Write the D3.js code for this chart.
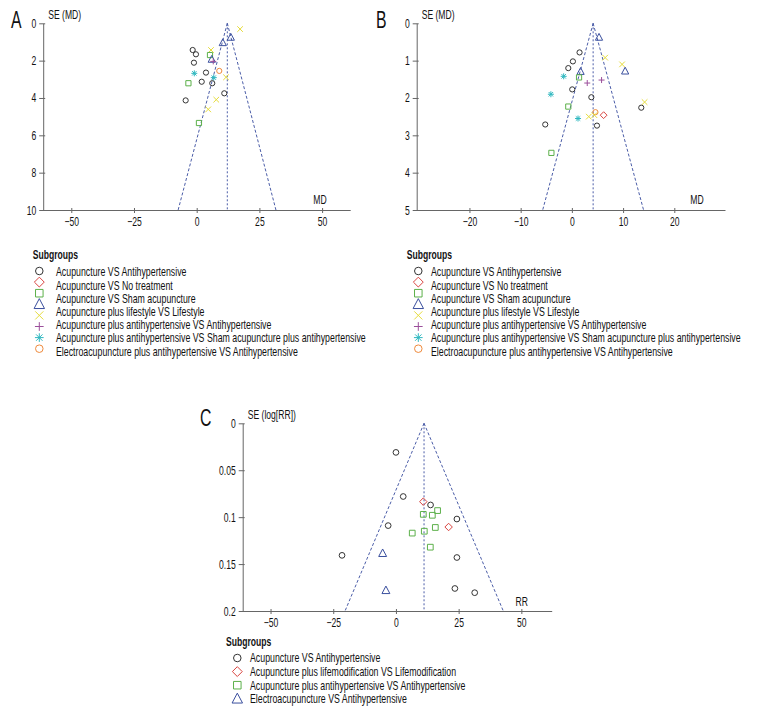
<!DOCTYPE html>
<html>
<head>
<meta charset="utf-8">
<script src="https://cdn.jsdelivr.net/npm/d3@7"></script>
<style>
  html, body { margin: 0; padding: 0; background: #fff; }
  svg { display: block; }
  text { font-family: "Liberation Sans", Arial, sans-serif; fill: #111; }
</style>
</head>
<body>
<svg id="chart" width="780" height="720"></svg>
<script>
// ---------------- DATA ----------------
const subgroupsAB = [
  "Acupuncture VS Antihypertensive",
  "Acupuncture VS No treatment",
  "Acupuncture VS Sham acupuncture",
  "Acupuncture plus lifestyle VS Lifestyle",
  "Acupuncture plus antihypertensive VS Antihypertensive",
  "Acupuncture plus antihypertensive VS Sham acupuncture plus antihypertensive",
  "Electroacupuncture plus antihypertensive VS Antihypertensive"
];
const symbolsAB = ["circle", "diamond", "square", "triangle", "cross", "plus", "asterisk", "circle"];
const colorsAB  = ["#333333", "#d9443f", "#5cb04a", "#3a4f9e", "#e6dc3c", "#9b4f9b", "#2fb8c0", "#ef8a3c"];

const subgroupsC = [
  "Acupuncture VS Antihypertensive",
  "Acupuncture plus lifemodification VS Lifemodification",
  "Acupuncture plus antihypertensive VS Antihypertensive",
  "Electroacupuncture VS Antihypertensive"
];
const symbolsC = ["circle", "diamond", "square", "triangle"];
const colorsC  = ["#333333", "#d9443f", "#5cb04a", "#3a4f9e"];

// [effect, SE, subgroup index]
const panelAPoints = [
  [17.3, 0.31, 4], [13.6, 0.75, 3], [10.4, 1.04, 3], [-1.6, 1.43, 0], [-0.3, 1.66, 0],
  [5.7, 1.43, 4], [5.3, 1.70, 2], [6.0, 1.93, 3], [6.6, 2.04, 5], [-1.1, 2.11, 0],
  [-0.95, 2.68, 6], [3.7, 2.64, 0], [9.0, 2.55, 7], [6.8, 2.91, 6], [11.7, 2.89, 4],
  [-3.3, 3.21, 2], [2.0, 3.13, 0], [6.2, 3.21, 0], [11.0, 3.75, 0], [7.8, 4.09, 4],
  [-4.4, 4.13, 0], [4.6, 4.61, 4], [0.9, 5.34, 2]
];
const panelBPoints = [
  [5.3, 0.375, 3], [1.5, 0.78, 0], [0.2, 1.02, 0], [6.5, 0.92, 4], [9.8, 1.10, 4],
  [10.4, 1.28, 3], [-0.7, 1.20, 0], [1.7, 1.29, 3], [-1.6, 1.42, 6], [1.4, 1.45, 2],
  [3.0, 1.60, 5], [5.8, 1.52, 5], [0.07, 1.77, 0], [-4.1, 1.90, 6], [3.8, 1.98, 0],
  [14.2, 2.11, 4], [13.55, 2.26, 0], [-0.7, 2.23, 2], [4.6, 2.38, 7], [3.3, 2.50, 4],
  [4.4, 2.46, 4], [6.2, 2.46, 1], [1.2, 2.55, 6], [-5.2, 2.71, 0], [4.9, 2.74, 0],
  [-4.0, 3.47, 2]
];
const panelCPoints = [
  [0.0, 0.031, 0], [2.9, 0.078, 0], [10.9, 0.0835, 1], [13.8, 0.087, 0], [16.6, 0.093, 2],
  [14.5, 0.098, 2], [10.9, 0.097, 2], [24.3, 0.102, 0], [-3.1, 0.109, 0], [15.7, 0.111, 2],
  [21.0, 0.1105, 1], [6.5, 0.117, 2], [11.3, 0.115, 2], [13.7, 0.132, 2], [-5.3, 0.1385, 3],
  [24.3, 0.143, 0], [-4.0, 0.178, 3], [23.5, 0.176, 0], [31.4, 0.1805, 0], [-21.5, 0.1407, 0]
];

// pooled estimate and funnel base [left, right] at maximum SE
const pooledA = 12.2, funnelBaseA = [-7.4, 31.6];
const pooledB = 4.15, funnelBaseB = [-5.7, 14.0];
const pooledC = 11.2, funnelBaseC = [-20.3, 42.8];

const xTicksA = [-50, -25, 0, 25, 50];
const yTicksA = [0, 2, 4, 6, 8, 10];
const xTicksB = [-20, -10, 0, 10, 20];
const yTicksB = [0, 1, 2, 3, 4, 5];
const xTicksC = [-50, -25, 0, 25, 50];
const yTicksC = [0, 0.05, 0.1, 0.15, 0.2];

// ---------------- DRAWING ----------------
const svg = d3.select("#chart");

function markerPath(type, k) {
  const p = d3.path();
  switch (type) {
    case "circle": { const r = 2.6 * k; p.moveTo(r, 0); p.arc(0, 0, r, 0, 2 * Math.PI); break; }
    case "diamond": { const r = 3.4 * k; p.moveTo(0, -r); p.lineTo(r, 0); p.lineTo(0, r); p.lineTo(-r, 0); p.closePath(); break; }
    case "square": { const r = 2.6 * k; p.rect(-r, -r, 2 * r, 2 * r); break; }
    case "triangle": { const w = 3.6 * k, h = 3.9 * k; p.moveTo(0, -h); p.lineTo(w, h * 0.75); p.lineTo(-w, h * 0.75); p.closePath(); break; }
    case "cross": { const r = 2.8 * k; p.moveTo(-r, -r); p.lineTo(r, r); p.moveTo(-r, r); p.lineTo(r, -r); break; }
    case "plus": { const r = 3.0 * k; p.moveTo(-r, 0); p.lineTo(r, 0); p.moveTo(0, -r); p.lineTo(0, r); break; }
    case "asterisk": { const r = 3.0 * k, d = 2.2 * k; p.moveTo(-r, 0); p.lineTo(r, 0); p.moveTo(0, -r); p.lineTo(0, r); p.moveTo(-d, -d); p.lineTo(d, d); p.moveTo(-d, d); p.lineTo(d, -d); break; }
  }
  return p.toString();
}

function drawPanel(cfg) {
  const g = svg.append("g");
  const x = d3.scaleLinear().domain(cfg.xDomain).range(cfg.xRange);
  const y = d3.scaleLinear().domain(cfg.yDomain).range(cfg.yRange);
  const yMax = cfg.yDomain[1];

  const xAxis = d3.axisBottom(x).tickValues(cfg.xTicks).tickSizeInner(3).tickSizeOuter(0).tickPadding(4)
    .tickFormat(d => d < 0 ? "\u2212" + Math.abs(d) : String(d));
  const yAxis = d3.axisLeft(y).tickValues(cfg.yTicks).tickSizeInner(4).tickSizeOuter(0).tickPadding(3)
    .tickFormat(cfg.yFormat);

  const gx = g.append("g").attr("transform", `translate(0,${cfg.yRange[1]})`).call(xAxis);
  const gy = g.append("g").attr("transform", `translate(${cfg.xRange[0]},0)`).call(yAxis);
  [gx, gy].forEach(a => {
    a.attr("font-family", null).attr("font-size", null);
    a.select(".domain").attr("stroke", "#666").attr("stroke-width", 1);
    a.selectAll(".tick line").attr("stroke", "#666");
    a.selectAll(".tick text").attr("font-size", 12.5).attr("fill", "#111");
  });
  gx.selectAll(".tick line").attr("y1", -2);
  gy.selectAll(".tick line").attr("x1", 2);

  // funnel
  const fun = g.append("g").attr("fill", "none").attr("stroke", "#4b5da8").attr("stroke-width", 1);
  fun.append("line")
    .attr("x1", x(cfg.pooled)).attr("y1", y(0)).attr("x2", x(cfg.pooled)).attr("y2", y(yMax))
    .attr("stroke-dasharray", "2,2");
  fun.append("line")
    .attr("x1", x(cfg.pooled)).attr("y1", y(0)).attr("x2", x(cfg.funnelBase[0])).attr("y2", y(yMax))
    .attr("stroke-dasharray", "3,2");
  fun.append("line")
    .attr("x1", x(cfg.pooled)).attr("y1", y(0)).attr("x2", x(cfg.funnelBase[1])).attr("y2", y(yMax))
    .attr("stroke-dasharray", "3,2");

  // points
  g.append("g").selectAll("path").data(cfg.points).join("path")
    .attr("transform", d => `translate(${x(d[0])},${y(d[1])})`)
    .attr("d", d => markerPath(cfg.symbols[d[2]], cfg.markerScale))
    .attr("fill", "none")
    .attr("stroke", d => cfg.colors[d[2]])
    .attr("stroke-width", 1);

  // labels
  g.append("text").attr("x", cfg.xRange[0] + 5).attr("y", cfg.yRange[0] - 4)
    .attr("font-size", 12.5).text(cfg.yLabel);
  g.append("text").attr("x", cfg.xLabelPos[0]).attr("y", cfg.xLabelPos[1])
    .attr("text-anchor", "middle").attr("font-size", 12.5).text(cfg.xLabel);
  g.append("text").attr("x", cfg.letterPos[0]).attr("y", cfg.letterPos[1])
    .attr("font-size", 23).text(cfg.letter);

  // legend
  const lg = g.append("g");
  lg.append("text").attr("x", cfg.legend.titleX).attr("y", cfg.legend.titleY)
    .attr("dy", "0.35em").attr("font-size", 12.5).attr("font-weight", "bold").text("Subgroups");
  lg.selectAll("path.sym").data(cfg.symbols).join("path").attr("class", "sym")
    .attr("transform", (d, i) => `translate(${cfg.legend.symX},${cfg.legend.symY0 + i * cfg.legend.symStep})`)
    .attr("d", d => markerPath(d, 1.45))
    .attr("fill", "none")
    .attr("stroke", (d, i) => cfg.colors[i])
    .attr("stroke-width", 1);
  lg.selectAll("text.item").data(cfg.legendTexts).join("text").attr("class", "item")
    .attr("x", cfg.legend.textX)
    .attr("y", (d, i) => cfg.legend.textY0 + i * cfg.legend.textStep)
    .attr("dy", "0.35em").attr("font-size", 12.8).text(d => d);
}

drawPanel({
  xDomain: [-61.2, 61.2], xRange: [43.2, 350.2],
  yDomain: [0, 10], yRange: [23.3, 210],
  xTicks: xTicksA, yTicks: yTicksA, yFormat: d3.format("d"),
  pooled: pooledA, funnelBase: funnelBaseA,
  points: panelAPoints, symbols: symbolsAB, colors: colorsAB, markerScale: 1,
  yLabel: "SE (MD)", xLabel: "MD", xLabelPos: [320, 204], letter: "A", letterPos: [11, 28],
  legendTexts: subgroupsAB,
  legend: { titleX: 32.7, titleY: 255, symX: 39.3, symY0: 271, symStep: 11.1, textX: 56, textY0: 272, textStep: 13.2 }
});

drawPanel({
  xDomain: [-30.3, 29.9], xRange: [416.7, 725],
  yDomain: [0, 5], yRange: [23.3, 210],
  xTicks: xTicksB, yTicks: yTicksB, yFormat: d3.format("d"),
  pooled: pooledB, funnelBase: funnelBaseB,
  points: panelBPoints, symbols: symbolsAB, colors: colorsAB, markerScale: 1,
  yLabel: "SE (MD)", xLabel: "MD", xLabelPos: [697, 204], letter: "B", letterPos: [376, 28],
  legendTexts: subgroupsAB,
  legend: { titleX: 406.7, titleY: 255, symX: 418.3, symY0: 271, symStep: 11.1, textX: 431, textY0: 272, textStep: 13.2 }
});

drawPanel({
  xDomain: [-61.1, 62.1], xRange: [242.7, 551.7],
  yDomain: [0, 0.2], yRange: [423.3, 611],
  xTicks: xTicksC, yTicks: yTicksC, yFormat: d => d === 0 ? "0" : String(+d.toFixed(2)),
  pooled: pooledC, funnelBase: funnelBaseC,
  points: panelCPoints, symbols: symbolsC, colors: colorsC, markerScale: 1.1,
  yLabel: "SE (log[RR])", xLabel: "RR", xLabelPos: [521.7, 606], letter: "C", letterPos: [200, 426],
  legendTexts: subgroupsC,
  legend: { titleX: 226, titleY: 641.7, symX: 237.3, symY0: 658, symStep: 13.6, textX: 250, textY0: 658, textStep: 13.6 }
});

// condensed look: narrow every text horizontally (around its own anchor x) by one factor,
// chosen so the longest legend entry matches the reference width
(function condense() {
  const texts = svg.selectAll("text");
  let ref = null;
  texts.each(function () {
    if (this.textContent === subgroupsAB[5] && !ref) ref = this;
  });
  const f = ref ? 310 / ref.getComputedTextLength() : 0.76;
  texts.each(function () {
    const ax = +(this.getAttribute("x") || 0);
    this.setAttribute("transform", `translate(${(ax * (1 - f)).toFixed(2)},0) scale(${f.toFixed(4)},1)`);
  });
})();
</script>
</body>
</html>
